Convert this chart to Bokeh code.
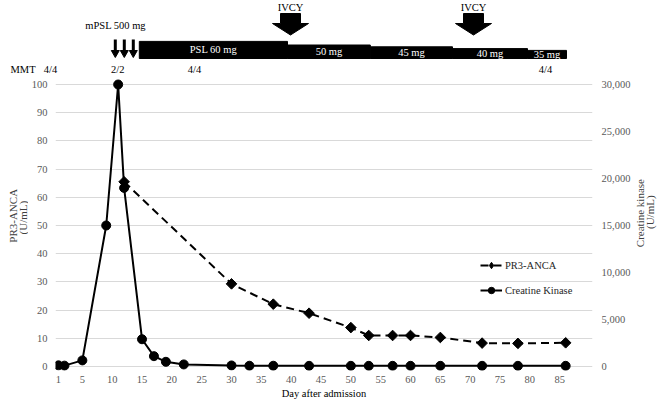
import numpy as np
from bokeh.plotting import figure
from bokeh.layouts import column, row
from bokeh.models import (Range1d, LinearAxis, FixedTicker, NumeralTickFormatter,
                          Legend, LegendItem)
from bokeh.core.properties import value
from bokeh.embed import file_html
from bokeh.resources import INLINE

# ---------------- data ----------------
ck_days = [1, 2, 5, 9, 11, 12, 15, 17, 19, 22, 30, 33, 37, 43, 50, 53, 57, 60, 65, 72, 78, 86]
ck_vals = [120, 90, 650, 15000, 30000, 19000, 2900, 1100, 500, 220, 110, 80, 80, 70, 70,
           70, 70, 70, 70, 70, 70, 70]

pr3_days = [12, 30, 37, 43, 50, 53, 57, 60, 65, 72, 78, 86]
pr3_vals = [65.5, 29.3, 22.1, 18.9, 13.8, 11.0, 11.0, 11.0, 10.3, 8.3, 8.2, 8.4]

day_ticks = [1, 5, 10, 15, 20, 25, 30, 35, 40, 45, 50, 55, 60, 65, 70, 75, 80, 85]
pr3_ticks = [0, 10, 20, 30, 40, 50, 60, 70, 80, 90, 100]
ck_ticks = [0, 5000, 10000, 15000, 20000, 25000, 30000]

# treatment timeline
pulse_days = [10.8, 12.3, 13.8]          # mPSL 500 mg pulses
ivcy_days = [40, 70.5]                   # IVCY
dose_mg = [60, 50, 45, 40, 35]           # PSL taper
dose_text = ["PSL 60 mg", "50 mg", "45 mg", "40 mg", "35 mg"]
dose_start = [14.8, 39.5, 53.3, 67.0, 79.5]
dose_end = [39.5, 53.3, 67.0, 79.5, 86.0]
mmt_days = [0, 11.2, 24, 82.5]
mmt_text = ["4/4", "2/2", "4/4", "4/4"]

# ---------------- layout constants ----------------
FONT = "Liberation Serif"
FS = "10.5px"
W, TOP_H = 661, 75
MAIN_H = 403 - TOP_H
WL, WR = 28, 28
WM = W - WL - WR
PPD = 6.0                                   # pixels per day
X0, X1 = 0.5, 90.5                          # main x range

def bare(width, height, xr, yr):
    f = figure(width=width, height=height, output_backend="svg", toolbar_location=None,
               x_range=xr, y_range=yr, x_axis_type=None, y_axis_type=None,
               min_border=0, min_border_left=0, min_border_right=0,
               min_border_top=0, min_border_bottom=0)
    f.outline_line_color = None
    f.xgrid.visible = False
    f.ygrid.visible = False
    return f

# ---------------- top: treatment timeline (y in pixels from top) ----------------
tx0 = X0 - 53 / PPD
tx1 = tx0 + W / PPD
top = bare(W, TOP_H, Range1d(tx0, tx1), Range1d(TOP_H, 0))

bar_bottom = 58
thick = [0.36 * d - 4.5 for d in dose_mg]
top.quad(left=dose_start, right=dose_end, bottom=bar_bottom,
         top=[bar_bottom - t for t in thick], color="black")
mids = [(a + b) / 2 for a, b in zip(dose_start, dose_end)]
top.text(x=mids, y=[bar_bottom - t / 2 for t in thick], text=dose_text, text_color="white",
         text_font=value(FONT), text_font_size=FS, text_align="center",
         text_baseline="middle")

# mPSL pulse arrows
top.segment(x0=pulse_days, y0=39, x1=pulse_days, y1=51, line_color="black", line_width=3)
top.patches(xs=[[d - 4 / PPD, d + 4 / PPD, d] for d in pulse_days],
            ys=[[50, 50, 57] for _ in pulse_days], color="black")
top.text(x=[5.8], y=[25], text=["mPSL 500 mg"], text_font=value(FONT),
         text_font_size=FS, text_align="left", text_baseline="middle", text_color="black")

# IVCY arrows
sw, hw = 10 / PPD, 18 / PPD
top.patches(xs=[[d - sw, d + sw, d + sw, d + hw, d, d - hw, d - sw] for d in ivcy_days],
            ys=[[13, 13, 23, 23, 34.5, 23, 23] for _ in ivcy_days], color="black")
top.text(x=ivcy_days, y=[7] * len(ivcy_days), text=["IVCY"] * len(ivcy_days),
         text_font=value(FONT), text_font_size=FS, text_align="center",
         text_baseline="middle", text_color="black")

# MMT row
top.text(x=[tx0 + 10 / PPD], y=[69], text=["MMT"], text_font=value(FONT),
         text_font_size=FS, text_align="left", text_baseline="middle", text_color="black")
top.text(x=mmt_days, y=[69] * len(mmt_days), text=mmt_text, text_font=value(FONT),
         text_font_size=FS, text_align="center", text_baseline="middle",
         text_color="black")

# ---------------- main chart ----------------
BOT = 33
FH = MAIN_H - BOT                     # frame height
PPU = 2.82
Y0 = -4 / PPU
Y1 = Y0 + FH / PPU
ck_factor = ck_ticks[-1] / pr3_ticks[-1]

p = figure(width=WM, height=MAIN_H, output_backend="svg", toolbar_location=None,
           x_range=Range1d(X0, X1), y_range=Range1d(Y0, Y1),
           min_border_left=53 - WL, min_border_right=WM - (53 - WL) - int((X1 - X0) * PPD),
           min_border_top=0, min_border_bottom=BOT)
p.outline_line_color = None
p.extra_y_ranges = {"ck": Range1d(Y0 * ck_factor, Y1 * ck_factor)}

xa = p.xaxis[0]
xa.ticker = FixedTicker(ticks=day_ticks)
xa.axis_label = "Day after admission"
xa.axis_label_text_font = FONT
xa.axis_label_text_font_size = FS
xa.axis_label_text_font_style = "normal"
xa.axis_label_text_color = "black"
xa.axis_label_standoff = 2
ya = p.yaxis[0]
ya.ticker = FixedTicker(ticks=pr3_ticks)
ra = LinearAxis(y_range_name="ck", ticker=FixedTicker(ticks=ck_ticks),
                formatter=NumeralTickFormatter(format="0,0"))
p.add_layout(ra, "right")
for ax, st in ((xa, 5), (ya, 8), (ra, 9)):
    ax.axis_line_color = None
    ax.major_tick_line_color = None
    ax.minor_tick_line_color = None
    ax.major_tick_out = 0
    ax.major_label_standoff = st
    ax.major_label_text_font = FONT
    ax.major_label_text_font_size = FS
    ax.major_label_text_color = "#595959"

p.xgrid.visible = False
p.ygrid.ticker = FixedTicker(ticks=pr3_ticks)
p.ygrid.grid_line_color = "#d9d9d9"
p.ygrid.grid_line_width = 1

ck_line = p.line(ck_days, ck_vals, y_range_name="ck", line_color="black", line_width=2)
p.scatter(ck_days, ck_vals, y_range_name="ck", marker="circle", size=9, color="black")
pr3_line = p.line(pr3_days, pr3_vals, line_color="black", line_width=2, line_dash="8 5")
p.scatter(pr3_days, pr3_vals, marker="square", angle=np.pi / 4, size=7.5, color="black")

# legend-only marker glyphs (placed outside the visible range)
leg_d = p.scatter([-1000], [-1000], marker="diamond", size=10, color="black")
leg_c = p.scatter([-1000], [-1000], marker="circle", size=6, color="black")
legend = Legend(items=[LegendItem(label="PR3-ANCA", renderers=[pr3_line, leg_d]),
                       LegendItem(label="Creatine Kinase", renderers=[ck_line, leg_c])],
                location=(425, 72), padding=0, margin=0, spacing=9,
                glyph_width=22, glyph_height=16, label_height=16, label_standoff=3,
                label_text_font=FONT, label_text_font_size=FS,
                label_text_color="#262626",
                border_line_color=None, background_fill_alpha=0)
p.add_layout(legend)

# ---------------- side strips with the vertical axis titles (pixel coords) ----------------
def strip(width, texts):
    s = bare(width, MAIN_H, Range1d(0, width), Range1d(MAIN_H, 0))
    for x, y, t in texts:
        s.text(x=[x], y=[y], text=[t], text_font=value(FONT), text_font_size="11px",
               text_align="center", text_baseline="middle", angle=np.pi / 2,
               text_color="#404040")
    return s

# page coordinates -> local coordinates
ls = strip(WL, [(12, 231 - TOP_H, "PR3-ANCA"), (22, 233 - TOP_H, "(U/mL)")])
rs = strip(WR, [(639 - (W - WR), 228 - TOP_H, "Creatine kinase"),
                (649 - (W - WR), 227 - TOP_H, "(U/mL)")])

layout = column(top, row(ls, p, rs))
open("out.html", "w").write(file_html(layout, INLINE))
